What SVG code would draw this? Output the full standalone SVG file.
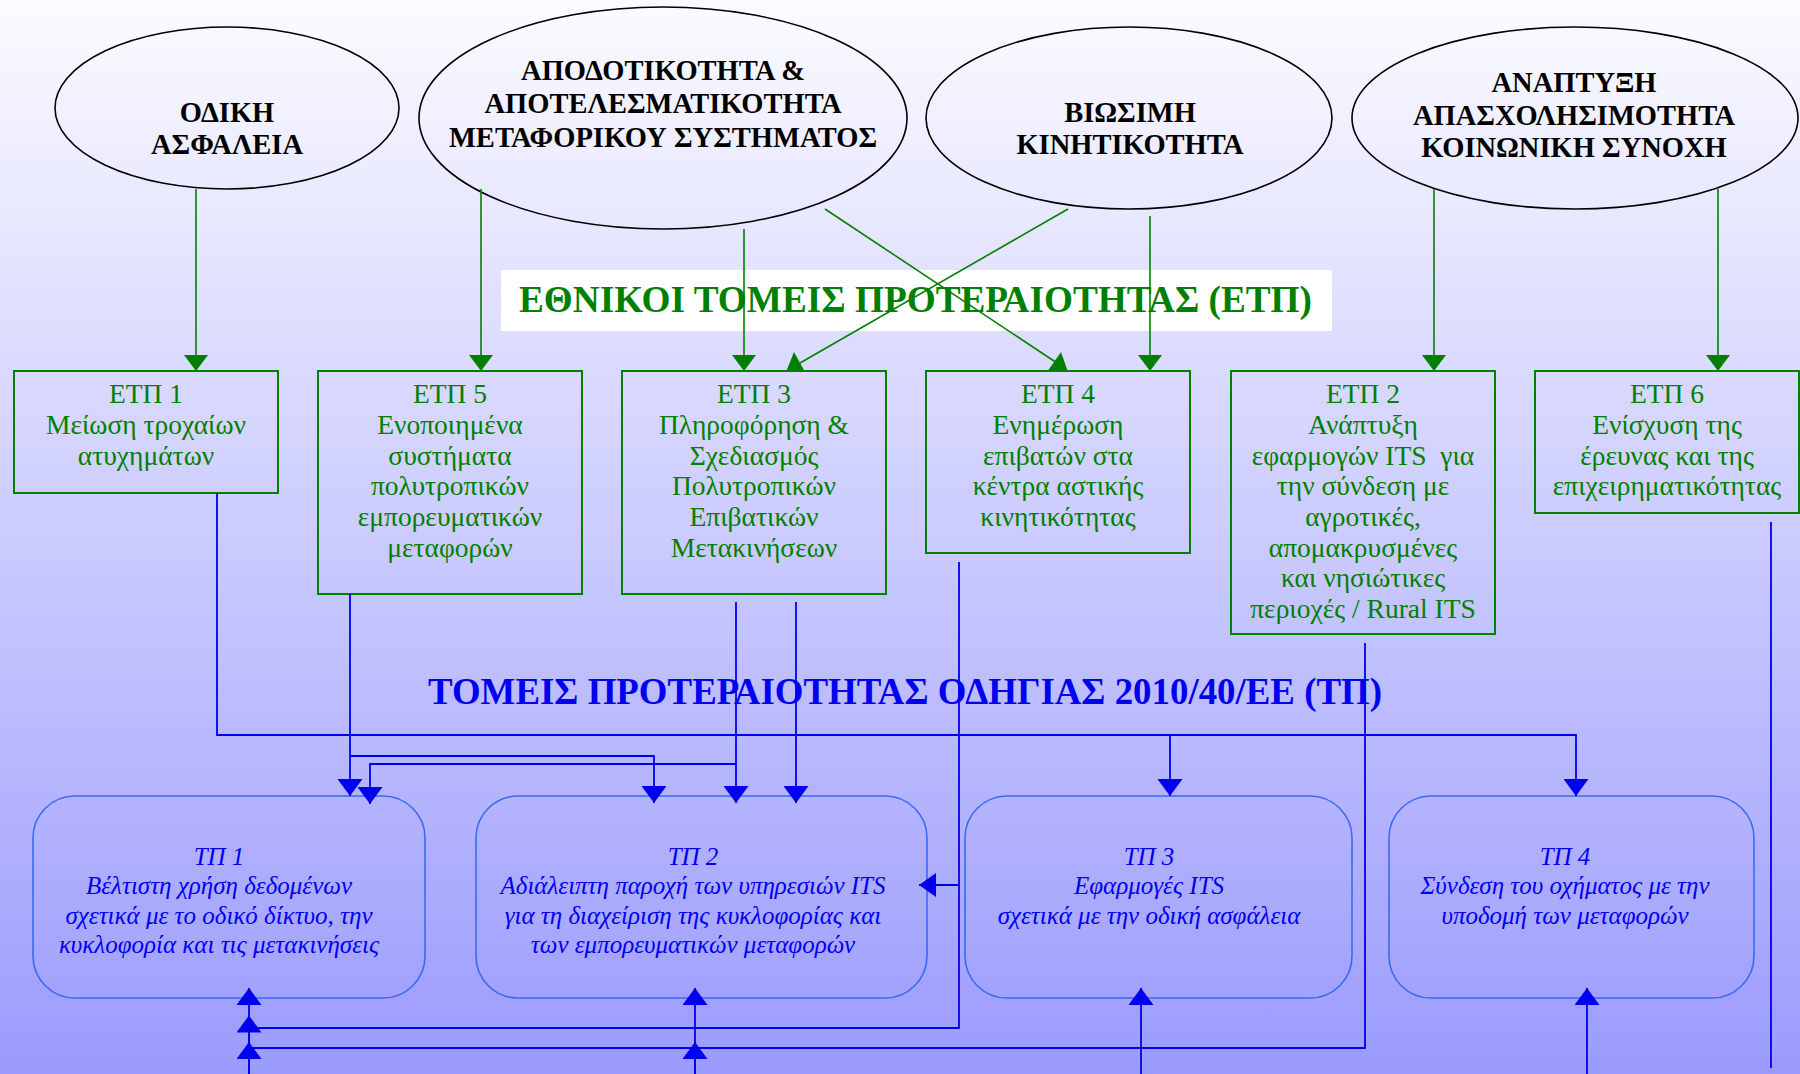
<svg xmlns="http://www.w3.org/2000/svg" width="1800" height="1074" viewBox="0 0 1800 1074">
<defs>
<linearGradient id="bg" x1="0" y1="0" x2="0" y2="1">
<stop offset="0" stop-color="#fbfbff"/>
<stop offset="1" stop-color="#9b9bfd"/>
</linearGradient>
<marker id="ga" markerUnits="userSpaceOnUse" markerWidth="16" markerHeight="24" viewBox="0 0 16 24" refX="16" refY="12" orient="auto">
<path d="M0,0 L16,12 L0,24 z" fill="#008000"/>
</marker>
<marker id="ba" markerUnits="userSpaceOnUse" markerWidth="17" markerHeight="25" viewBox="0 0 17 25" refX="17" refY="12.5" orient="auto">
<path d="M0,0 L17,12.5 L0,25 z" fill="#0000f0"/>
</marker>
<marker id="bl" markerUnits="userSpaceOnUse" markerWidth="17" markerHeight="24" viewBox="0 0 17 24" refX="17" refY="12" orient="auto">
<path d="M0,0 L17,12 L0,24 z" fill="#0000f0"/>
</marker>
</defs>
<style>
.ell{fill:none;stroke:#000;stroke-width:1.6}
.et{font-family:"Liberation Serif","Times New Roman",serif;font-weight:bold;font-size:28.5px;fill:#000;text-anchor:middle}
.gbox{fill:none;stroke:#008000;stroke-width:2}
.gt{font-family:"Liberation Serif","Times New Roman",serif;font-size:27.5px;fill:#008000;text-anchor:middle}
.tbox{fill:none;stroke:#3a6af5;stroke-width:1.6}
.tt{font-family:"Liberation Serif","Times New Roman",serif;font-style:italic;font-size:25px;fill:#0000f0;text-anchor:middle}
.title{font-family:"Liberation Serif","Times New Roman",serif;font-weight:bold;font-size:37px;text-anchor:middle}
.gl{fill:none;stroke:#008000;stroke-width:1.6}
.bln{fill:none;stroke:#0000f0;stroke-width:1.8}
</style>
<rect x="0" y="0" width="1800" height="1074" fill="url(#bg)"/>

<g id="title-etp">
<rect x="501" y="270" width="831" height="61" fill="#ffffff"/>
<text class="title" x="915.5" y="312" fill="#008000" textLength="793" lengthAdjust="spacingAndGlyphs">ΕΘΝΙΚΟΙ ΤΟΜΕΙΣ ΠΡΟΤΕΡΑΙΟΤΗΤΑΣ (ΕΤΠ)</text>
</g>
<g id="title-tp">
<text class="title" x="905" y="704" fill="#0000f0" textLength="954" lengthAdjust="spacingAndGlyphs">ΤΟΜΕΙΣ ΠΡΟΤΕΡΑΙΟΤΗΤΑΣ ΟΔΗΓΙΑΣ 2010/40/ΕΕ (ΤΠ)</text>
</g>

<g id="goal-odiki">
<ellipse class="ell" cx="227" cy="108" rx="172" ry="81"/>
<text class="et" x="227" y="122">ΟΔΙΚΗ</text>
<text class="et" x="227" y="154">ΑΣΦΑΛΕΙΑ</text>
</g>
<g id="goal-apodotikotita">
<ellipse class="ell" cx="663" cy="118" rx="244" ry="111"/>
<text class="et" x="663" y="80">ΑΠΟΔΟΤΙΚΟΤΗΤΑ &amp;</text>
<text class="et" x="663" y="113">ΑΠΟΤΕΛΕΣΜΑΤΙΚΟΤΗΤΑ</text>
<text class="et" x="663" y="147">ΜΕΤΑΦΟΡΙΚΟΥ ΣΥΣΤΗΜΑΤΟΣ</text>
</g>
<g id="goal-viosimi">
<ellipse class="ell" cx="1129" cy="118" rx="203" ry="91"/>
<text class="et" x="1130" y="122">ΒΙΩΣΙΜΗ</text>
<text class="et" x="1130" y="154">ΚΙΝΗΤΙΚΟΤΗΤΑ</text>
</g>
<g id="goal-anaptyxi">
<ellipse class="ell" cx="1575" cy="118" rx="223" ry="91"/>
<text class="et" x="1574" y="92">ΑΝΑΠΤΥΞΗ</text>
<text class="et" x="1574" y="125">ΑΠΑΣΧΟΛΗΣΙΜΟΤΗΤΑ</text>
<text class="et" x="1574" y="157">ΚΟΙΝΩΝΙΚΗ ΣΥΝΟΧΗ</text>
</g>

<g id="etp1">
<rect class="gbox" x="14" y="371" width="264" height="122"/>
<text class="gt" x="146" y="403">ΕΤΠ 1</text>
<text class="gt" x="146" y="434">Μείωση τροχαίων</text>
<text class="gt" x="146" y="464.5">ατυχημάτων</text>
</g>
<g id="etp5">
<rect class="gbox" x="318" y="371" width="264" height="223"/>
<text class="gt" x="450" y="403">ΕΤΠ 5</text>
<text class="gt" x="450" y="434">Ενοποιημένα</text>
<text class="gt" x="450" y="464.5">συστήματα</text>
<text class="gt" x="450" y="495">πολυτροπικών</text>
<text class="gt" x="450" y="526">εμπορευματικών</text>
<text class="gt" x="450" y="556.5">μεταφορών</text>
</g>
<g id="etp3">
<rect class="gbox" x="622" y="371" width="264" height="223"/>
<text class="gt" x="754" y="403">ΕΤΠ 3</text>
<text class="gt" x="754" y="434">Πληροφόρηση &amp;</text>
<text class="gt" x="754" y="464.5">Σχεδιασμός</text>
<text class="gt" x="754" y="495">Πολυτροπικών</text>
<text class="gt" x="754" y="526">Επιβατικών</text>
<text class="gt" x="754" y="556.5">Μετακινήσεων</text>
</g>
<g id="etp4">
<rect class="gbox" x="926" y="371" width="264" height="182"/>
<text class="gt" x="1058" y="403">ΕΤΠ 4</text>
<text class="gt" x="1058" y="434">Ενημέρωση</text>
<text class="gt" x="1058" y="464.5">επιβατών στα</text>
<text class="gt" x="1058" y="495">κέντρα αστικής</text>
<text class="gt" x="1058" y="526">κινητικότητας</text>
</g>
<g id="etp2">
<rect class="gbox" x="1231" y="371" width="264" height="263"/>
<text class="gt" x="1363" y="403">ΕΤΠ 2</text>
<text class="gt" x="1363" y="434">Ανάπτυξη</text>
<text class="gt" x="1363" y="464.5" xml:space="preserve">εφαρμογών ITS  για</text>
<text class="gt" x="1363" y="495">την σύνδεση με</text>
<text class="gt" x="1363" y="526">αγροτικές,</text>
<text class="gt" x="1363" y="556.5">απομακρυσμένες</text>
<text class="gt" x="1363" y="587">και νησιώτικες</text>
<text class="gt" x="1363" y="618">περιοχές / Rural ITS</text>
</g>
<g id="etp6">
<rect class="gbox" x="1535" y="371" width="264" height="142"/>
<text class="gt" x="1667" y="403">ΕΤΠ 6</text>
<text class="gt" x="1667" y="434">Ενίσχυση της</text>
<text class="gt" x="1667" y="464.5">έρευνας και της</text>
<text class="gt" x="1667" y="495">επιχειρηματικότητας</text>
</g>

<g id="tp1">
<rect class="tbox" x="33" y="796" width="392" height="202" rx="42" ry="42"/>
<text class="tt" x="219" y="864.5">ΤΠ 1</text>
<text class="tt" x="219" y="894">Βέλτιστη χρήση δεδομένων</text>
<text class="tt" x="219" y="923.5">σχετικά με το οδικό δίκτυο, την</text>
<text class="tt" x="219" y="953">κυκλοφορία και τις μετακινήσεις</text>
</g>
<g id="tp2">
<rect class="tbox" x="476" y="796" width="451" height="202" rx="42" ry="42"/>
<text class="tt" x="693" y="864.5">ΤΠ 2</text>
<text class="tt" x="693" y="894">Αδιάλειπτη παροχή των υπηρεσιών ITS</text>
<text class="tt" x="693" y="923.5">για τη διαχείριση της κυκλοφορίας και</text>
<text class="tt" x="693" y="953">των εμπορευματικών μεταφορών</text>
</g>
<g id="tp3">
<rect class="tbox" x="965" y="796" width="387" height="202" rx="42" ry="42"/>
<text class="tt" x="1149" y="864.5">ΤΠ 3</text>
<text class="tt" x="1149" y="894">Εφαρμογές ITS</text>
<text class="tt" x="1149" y="923.5">σχετικά με την οδική ασφάλεια</text>
</g>
<g id="tp4">
<rect class="tbox" x="1389" y="796" width="365" height="202" rx="42" ry="42"/>
<text class="tt" x="1565" y="864.5">ΤΠ 4</text>
<text class="tt" x="1565" y="894">Σύνδεση του οχήματος με την</text>
<text class="tt" x="1565" y="923.5">υποδομή των μεταφορών</text>
</g>

<g id="connectors">
<path class="gl" d="M196 189 V371" marker-end="url(#ga)"/>
<path class="gl" d="M481 189 V371" marker-end="url(#ga)"/>
<path class="gl" d="M744 229 V371" marker-end="url(#ga)"/>
<path class="gl" d="M1150 216 V371" marker-end="url(#ga)"/>
<path class="gl" d="M1434 189 V371" marker-end="url(#ga)"/>
<path class="gl" d="M1718 189 V371" marker-end="url(#ga)"/>
<path class="gl" d="M825 209 L1057 363"/>
<polygon points="1061,352 1068,372 1047,372" fill="#008000"/>
<path class="gl" d="M1068 209 L800 363"/>
<polygon points="794,352 805,372 786,372" fill="#008000"/>

<path class="bln" d="M217 493 V735 H1576 V796" marker-end="url(#ba)"/>
<path class="bln" d="M1170 735 V796" marker-end="url(#ba)"/>
<path class="bln" d="M350 594 V796" marker-end="url(#ba)"/>
<path class="bln" d="M350 756 H654 V803" marker-end="url(#ba)"/>
<path class="bln" d="M736 602 V803" marker-end="url(#ba)"/>
<path class="bln" d="M796 602 V803" marker-end="url(#ba)"/>
<path class="bln" d="M736 764 H370 V804" marker-end="url(#ba)"/>
<path class="bln" d="M959 562 V1028 H249"/>
<path class="bln" d="M959 885 H919" marker-end="url(#bl)"/>
<path class="bln" d="M1365 643 V1048 H249"/>
<path class="bln" d="M1771 522 V1068"/>
<path class="bln" d="M249 1074 V988" marker-end="url(#ba)"/>
<path class="bln" d="M249 1074 V1015.5" marker-end="url(#ba)"/>
<path class="bln" d="M249 1074 V1042" marker-end="url(#ba)"/>
<path class="bln" d="M695 1074 V988" marker-end="url(#ba)"/>
<path class="bln" d="M695 1074 V1042" marker-end="url(#ba)"/>
<path class="bln" d="M1141 1074 V988" marker-end="url(#ba)"/>
<path class="bln" d="M1587 1074 V988" marker-end="url(#ba)"/>
</g>
</svg>
